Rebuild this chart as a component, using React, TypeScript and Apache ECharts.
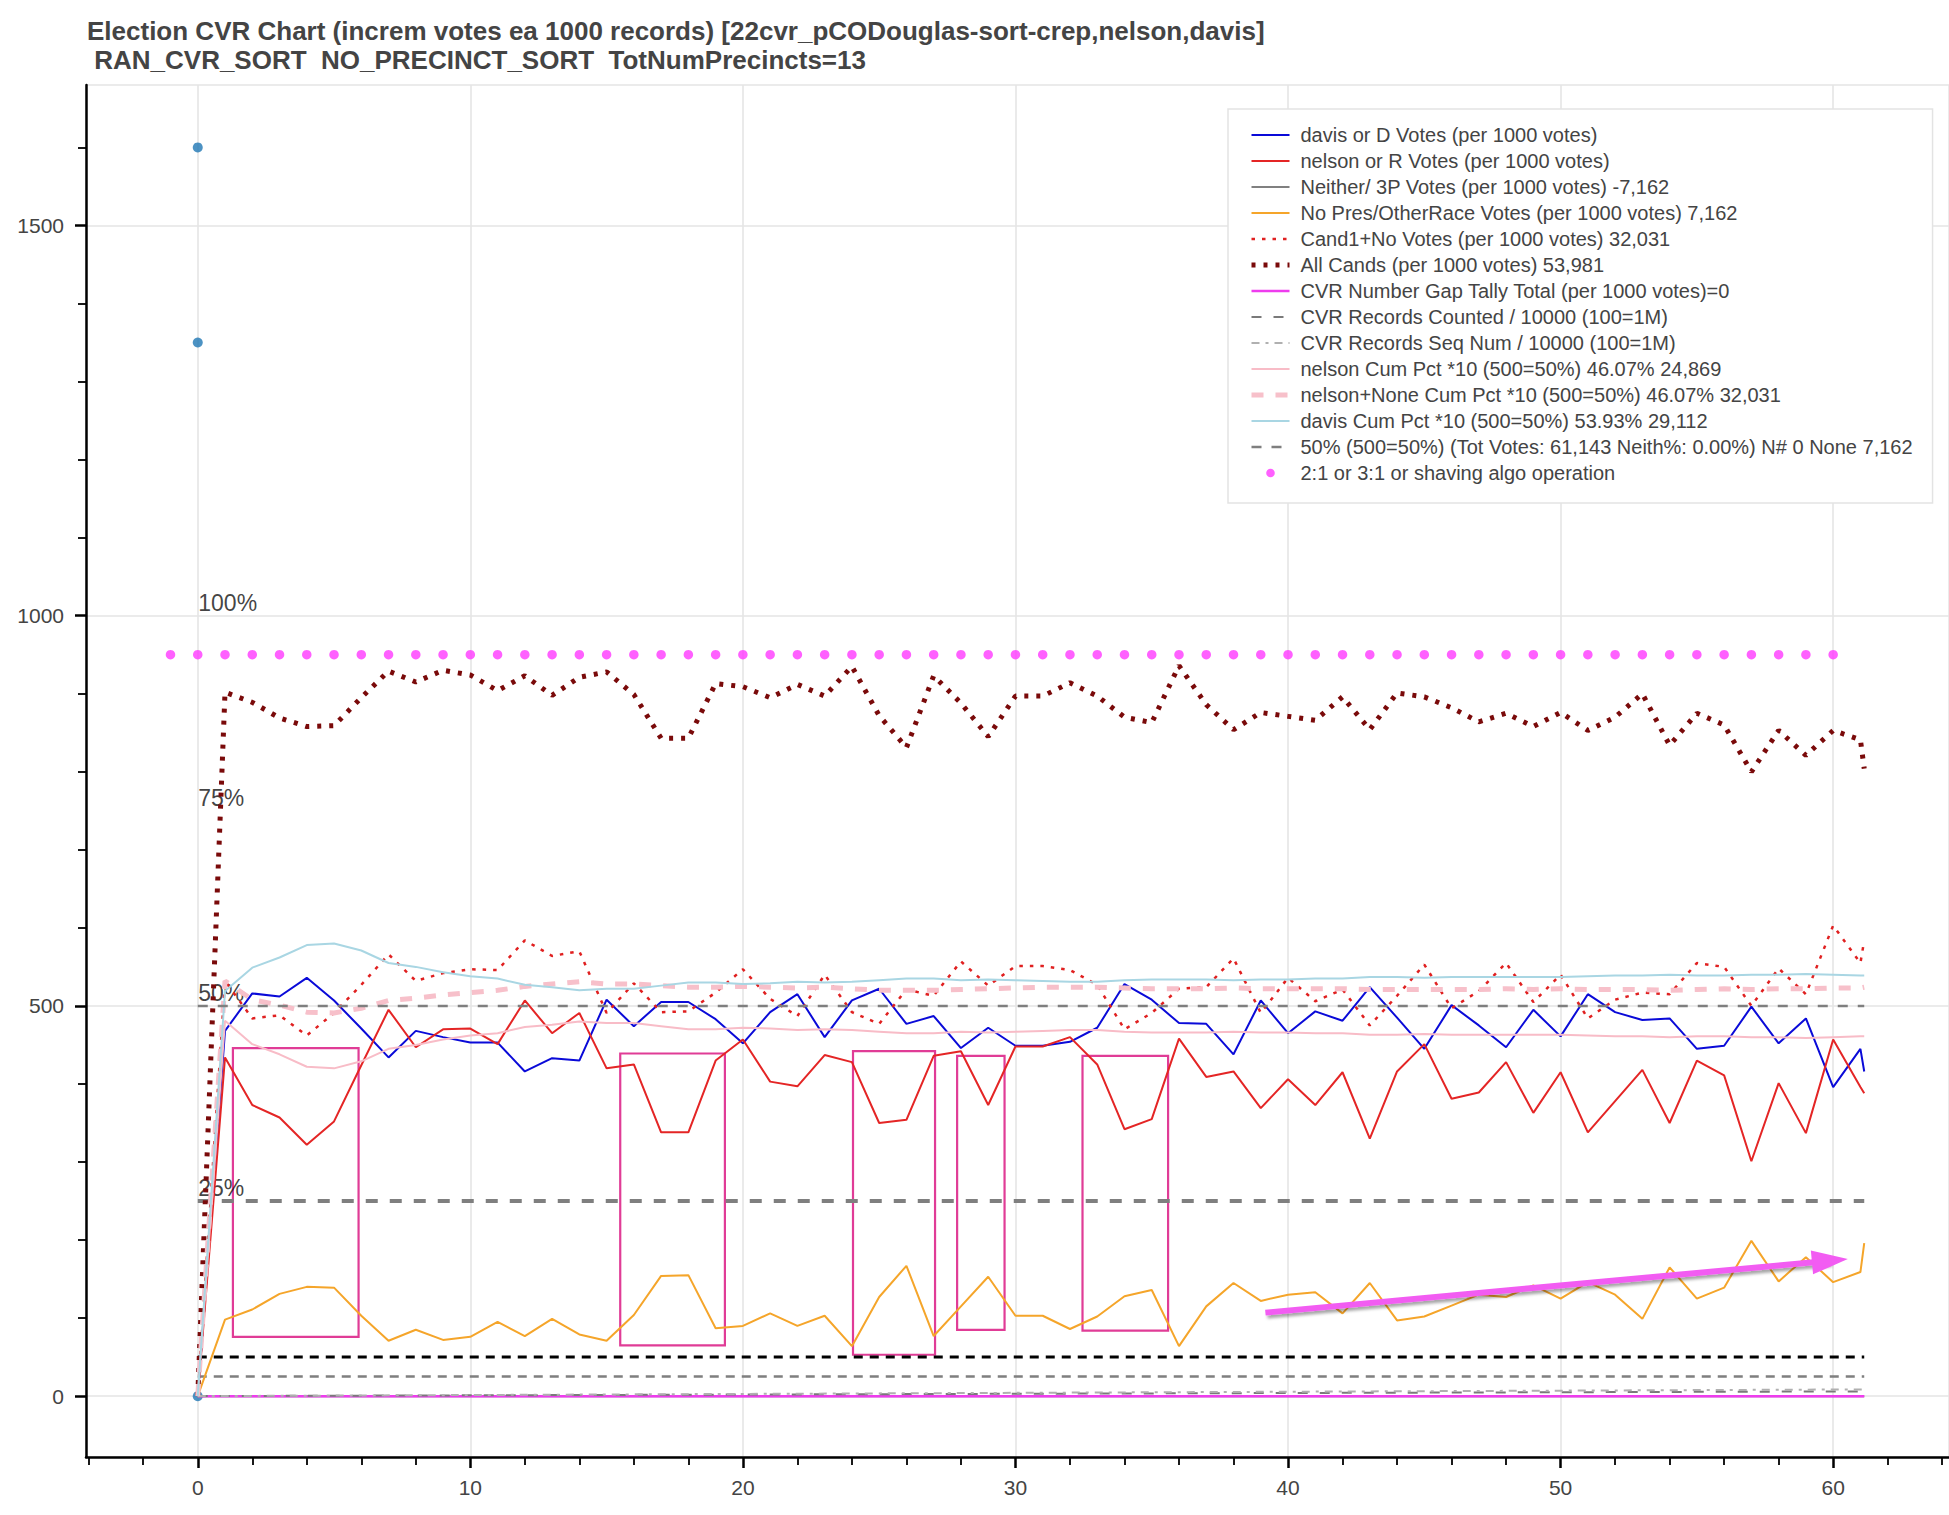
import React, { useEffect, useRef } from 'react';
import * as echarts from 'echarts';

const FONT = "'Liberation Sans', Arial, Helvetica, sans-serif";

// Batch index: each step is 1000 CVR records, the last one is the partial batch (143 records)
const batchX = [0, 1, 2, 3, 4, 5, 6, 7, 8, 9, 10, 11, 12, 13, 14, 15, 16, 17, 18, 19, 20, 21, 22, 23, 24, 25, 26, 27, 28, 29, 30, 31, 32, 33, 34, 35, 36, 37, 38, 39, 40, 41, 42, 43, 44, 45, 46, 47, 48, 49, 50, 51, 52, 53, 54, 55, 56, 57, 58, 59, 60, 61, 61.14];

const davisVotes = [0, 468, 516, 512, 536, 507, 471, 434, 468, 460, 453, 453, 416, 433, 430, 508, 474, 505, 505, 483, 452, 492, 515, 460, 507, 522, 477, 487, 446, 472, 449, 449, 454, 472, 528, 508, 478, 477, 438, 507, 465, 493, 481, 524, 485, 445, 501, 475, 447, 495, 461, 515, 492, 482, 484, 445, 449, 499, 452, 484, 396, 445, 416];
const nelsonVotes = [0, 434, 373, 357, 322, 352, 424, 495, 447, 470, 471, 451, 507, 465, 491, 420, 425, 338, 338, 430, 457, 403, 397, 437, 428, 350, 354, 436, 442, 373, 448, 448, 460, 425, 342, 355, 458, 409, 416, 369, 406, 373, 415, 330, 416, 451, 381, 389, 428, 363, 415, 338, 378, 418, 350, 430, 411, 301, 401, 337, 457, 396, 388];
const noPresVotes = [0, 98, 111, 131, 140, 139, 103, 71, 85, 72, 76, 95, 77, 99, 79, 71, 104, 154, 155, 87, 90, 106, 90, 103, 64, 127, 167, 77, 115, 153, 103, 103, 86, 102, 128, 136, 64, 115, 145, 122, 130, 133, 106, 145, 97, 102, 116, 130, 127, 142, 125, 146, 130, 99, 165, 125, 139, 199, 147, 178, 146, 159, 196];
const cand1NoVotes = [0, 532, 484, 488, 462, 491, 527, 566, 532, 542, 547, 546, 584, 564, 570, 491, 529, 492, 493, 517, 547, 509, 487, 540, 492, 477, 521, 513, 557, 526, 551, 551, 546, 527, 470, 491, 522, 524, 561, 491, 536, 506, 521, 475, 513, 553, 497, 519, 555, 505, 540, 484, 508, 517, 515, 555, 550, 500, 548, 515, 603, 555, 584];
const allCandsVotes = [0, 902, 889, 869, 858, 859, 895, 929, 915, 930, 924, 904, 923, 898, 921, 928, 899, 843, 843, 913, 909, 895, 912, 897, 935, 872, 831, 923, 888, 845, 897, 897, 914, 897, 870, 863, 936, 886, 854, 876, 871, 866, 896, 854, 901, 896, 882, 864, 875, 858, 876, 853, 870, 900, 834, 875, 860, 800, 853, 821, 853, 841, 804];
const nelsonCumPct = [0, 481, 451, 438, 422, 420, 429, 445, 450, 457, 462, 465, 473, 476, 480, 478, 478, 474, 470, 470, 472, 471, 469, 470, 469, 467, 465, 465, 467, 466, 467, 468, 469, 469, 467, 466, 466, 466, 467, 466, 466, 465, 465, 463, 463, 464, 463, 463, 463, 463, 463, 462, 461, 461, 460, 461, 461, 460, 460, 459, 460, 461, 461];
const nelsonNoneCumPct = [0, 532, 508, 501, 492, 491, 497, 507, 510, 514, 517, 520, 525, 528, 531, 528, 528, 526, 524, 524, 525, 524, 523, 524, 522, 520, 520, 520, 521, 522, 523, 524, 524, 524, 523, 522, 522, 522, 523, 522, 522, 522, 522, 521, 521, 521, 521, 521, 522, 521, 522, 521, 521, 521, 520, 521, 522, 521, 522, 522, 523, 523, 524];
const davisCumPct = [0, 519, 549, 562, 578, 580, 571, 555, 550, 543, 538, 535, 527, 524, 520, 522, 522, 526, 530, 530, 528, 529, 531, 530, 531, 533, 535, 535, 533, 534, 533, 532, 531, 531, 533, 534, 534, 534, 533, 534, 534, 535, 535, 537, 537, 536, 537, 537, 537, 537, 537, 538, 539, 539, 540, 539, 539, 540, 540, 541, 540, 539, 539];

// Straight lines drawn from their two end points
const spanX = [0, 61.14];
const zeroLevel = [0, 0];
const recordsCounted = [0, 6.1];
const recordsSeqNum = [0, 8.6];
const fiftyPctLevel = [500, 500];
const quarterLevel = [250, 250];
const blackLevel = [50, 50];
const grayLevel = [25, 25];

// "2:1 or 3:1 or shaving algo operation" markers
const algoX = [-1, 0, 1, 2, 3, 4, 5, 6, 7, 8, 9, 10, 11, 12, 13, 14, 15, 16, 17, 18, 19, 20, 21, 22, 23, 24, 25, 26, 27, 28, 29, 30, 31, 32, 33, 34, 35, 36, 37, 38, 39, 40, 41, 42, 43, 44, 45, 46, 47, 48, 49, 50, 51, 52, 53, 54, 55, 56, 57, 58, 59, 60];
const algoY = 950;

// Blue markers at x = 0
const startDotsY = [1600, 1350, 0];

// Percentage labels
const pctLevels = [1000, 750, 500, 250];
const pctTexts = ['100%', '75%', '50%', '25%'];

// Hand-drawn annotation boxes [x1, y1, x2, y2] and arrow
const annotBoxes = [
  [1.29, 446, 5.9, 76],
  [15.5, 439, 19.34, 65],
  [24.04, 442, 27.05, 53],
  [27.86, 436, 29.6, 85],
  [32.46, 436, 35.6, 84],
];
const arrowFrom = [39.17, 107];
const arrowTo = [59.88, 173.5];

// Axis ticks
const xMajorTicks = [0, 10, 20, 30, 40, 50, 60];
const xMinorTicks = [-4, -2, 2, 4, 6, 8, 12, 14, 16, 18, 22, 24, 26, 28, 32, 34, 36, 38, 42, 44, 46, 48, 52, 54, 56, 58, 62, 64];
const yMajorTicks = [0, 500, 1000, 1500];
const yMinorTicks = [100, 200, 300, 400, 600, 700, 800, 900, 1100, 1200, 1300, 1400, 1600];

const TITLE =
  'Election CVR Chart (increm votes ea 1000 records) [22cvr_pCODouglas-sort-crep,nelson,davis]\n' +
  ' RAN_CVR_SORT  NO_PRECINCT_SORT  TotNumPrecincts=13';

const DOTS_NAME = '2:1 or 3:1 or shaving algo operation';
const DOT_COLOR = '#ff38ff';

interface LineDef {
  name: string;
  x: number[];
  y: number[];
  color: string;
  width: number;
  dash?: number[];
  inLegend: boolean;
}

const lineDefs: LineDef[] = [
  { name: 'davis or D Votes (per 1000 votes)', x: batchX, y: davisVotes, color: '#0a0ad8', width: 2, inLegend: true },
  { name: 'nelson or R Votes (per 1000 votes)', x: batchX, y: nelsonVotes, color: '#e42525', width: 2, inLegend: true },
  { name: 'Neither/ 3P Votes (per 1000 votes) -7,162', x: spanX, y: zeroLevel, color: '#808080', width: 2, inLegend: true },
  { name: 'No Pres/OtherRace Votes (per 1000 votes) 7,162', x: batchX, y: noPresVotes, color: '#f5a52a', width: 2, inLegend: true },
  { name: 'Cand1+No Votes (per 1000 votes) 32,031', x: batchX, y: cand1NoVotes, color: '#e02020', width: 2.5, dash: [3.5, 7], inLegend: true },
  { name: 'All Cands (per 1000 votes) 53,981', x: batchX, y: allCandsVotes, color: '#7a0a0a', width: 5, dash: [4, 8], inLegend: true },
  { name: 'CVR Number Gap Tally Total (per 1000 votes)=0', x: spanX, y: zeroLevel, color: '#ee3cee', width: 2.5, inLegend: true },
  { name: 'CVR Records Counted / 10000 (100=1M)', x: spanX, y: recordsCounted, color: '#7a7a7a', width: 2, dash: [10, 12], inLegend: true },
  { name: 'CVR Records Seq Num / 10000 (100=1M)', x: spanX, y: recordsSeqNum, color: '#b0b0b0', width: 2, dash: [8, 6, 3, 6], inLegend: true },
  { name: 'nelson Cum Pct *10 (500=50%) 46.07% 24,869', x: batchX, y: nelsonCumPct, color: '#f8bcc7', width: 2, inLegend: true },
  { name: 'nelson+None Cum Pct *10 (500=50%) 46.07% 32,031', x: batchX, y: nelsonNoneCumPct, color: '#f7c0ca', width: 5, dash: [12, 12], inLegend: true },
  { name: 'davis Cum Pct *10 (500=50%) 53.93% 29,112', x: batchX, y: davisCumPct, color: '#a9d6e3', width: 2, inLegend: true },
  { name: '50% (500=50%) (Tot Votes: 61,143 Neith%: 0.00%) N# 0 None 7,162', x: spanX, y: fiftyPctLevel, color: '#7f7f7f', width: 2.5, dash: [10, 10], inLegend: true },
  { name: 'ref250', x: spanX, y: quarterLevel, color: '#7f7f7f', width: 4, dash: [12, 12], inLegend: false },
  { name: 'ref50', x: spanX, y: blackLevel, color: '#000000', width: 3, dash: [9, 7], inLegend: false },
  { name: 'ref25', x: spanX, y: grayLevel, color: '#7f7f7f', width: 2.5, dash: [9, 7], inLegend: false },
];

const App: React.FC = () => {
  const chartRef = useRef<HTMLDivElement>(null);

  useEffect(() => {
    document.body.style.margin = '0';
    if (!chartRef.current) return;
    const chart = echarts.init(chartRef.current, undefined, { renderer: 'svg' });

    // draw order: reference lines underneath, then the vote lines
    const drawOrder = [...lineDefs.filter(d => !d.inLegend), ...lineDefs.filter(d => d.inLegend)];

    const lineSeries = drawOrder.map(d => ({
      name: d.name,
      type: 'line',
      data: d.x.map((x, i) => [x, d.y[i]]),
      showSymbol: false,
      symbol: 'none',
      silent: true,
      lineStyle: { color: d.color, width: d.width, type: d.dash ? d.dash : 'solid' },
      itemStyle: { color: d.color },
      emphasis: { disabled: true },
    }));

    // legend glyph = the line only (hide the symbol ECharts puts in the middle)
    const legendData: any[] = lineDefs
      .filter(d => d.inLegend)
      .map(d => ({
        name: d.name,
        lineStyle: { color: d.color, width: d.width, type: d.dash ? d.dash : 'solid' },
        itemStyle: { color: 'rgba(0,0,0,0)', borderColor: 'rgba(0,0,0,0)', borderWidth: 0, opacity: 0 },
      }));
    legendData.push({
      name: DOTS_NAME,
      icon: 'path://M0,0L38,0L0,0Z M0,20L38,20L0,20Z M14.7,10A4.3,4.3,0,1,0,23.3,10A4.3,4.3,0,1,0,14.7,10Z',
      itemStyle: { color: DOT_COLOR },
    });

    const option: any = {
      animation: false,
      backgroundColor: '#ffffff',
      textStyle: { fontFamily: FONT },
      title: {
        text: TITLE,
        left: 87,
        top: 16,
        padding: 0,
        textStyle: { fontFamily: FONT, fontSize: 26, fontWeight: 'bold', color: '#444444', lineHeight: 29 },
      },
      legend: {
        data: legendData,
        orient: 'vertical',
        left: 1228,
        top: 109,
        padding: [16, 20, 20, 21],
        itemWidth: 38,
        itemHeight: 20,
        itemGap: 6,
        backgroundColor: '#ffffff',
        borderColor: '#e3e3e3',
        borderWidth: 1.5,
        selectedMode: false,
        textStyle: { fontFamily: FONT, fontSize: 20, color: '#444444', padding: [0, 0, 0, 6] },
      },
      grid: {
        left: 86,
        right: 0,
        top: 85,
        bottom: 58,
        show: true,
        borderColor: '#e5e5e5',
        borderWidth: 1.5,
        backgroundColor: 'transparent',
      },
      xAxis: [
        {
          type: 'value',
          min: -4.1,
          max: 64.25,
          position: 'bottom',
          axisLine: { show: true, onZero: false, lineStyle: { color: '#000', width: 2.5 } },
          axisTick: { show: true, customValues: xMajorTicks, length: 11, lineStyle: { color: '#000', width: 2.5 } },
          axisLabel: { customValues: xMajorTicks, fontSize: 21, color: '#444444', fontFamily: FONT, margin: 20, formatter: (v: number) => String(v) },
          splitLine: { show: true, lineStyle: { color: '#e5e5e5', width: 1.6 } },
        },
        {
          type: 'value',
          min: -4.1,
          max: 64.25,
          position: 'bottom',
          axisLine: { show: false, onZero: false },
          axisTick: { show: true, customValues: xMinorTicks, length: 8, lineStyle: { color: '#000', width: 1.8 } },
          axisLabel: { show: false },
          splitLine: { show: false },
        },
      ],
      yAxis: [
        {
          type: 'value',
          min: -78,
          max: 1680,
          position: 'left',
          axisLine: { show: true, onZero: false, lineStyle: { color: '#000', width: 2.5 } },
          axisTick: { show: true, customValues: yMajorTicks, length: 11, lineStyle: { color: '#000', width: 2.5 } },
          axisLabel: { customValues: yMajorTicks, fontSize: 21, color: '#444444', fontFamily: FONT, margin: 22, formatter: (v: number) => String(v) },
          splitLine: { show: true, lineStyle: { color: '#e5e5e5', width: 1.6 } },
        },
        {
          type: 'value',
          min: -78,
          max: 1680,
          position: 'left',
          axisLine: { show: false, onZero: false },
          axisTick: { show: true, customValues: yMinorTicks, length: 8, lineStyle: { color: '#000', width: 1.8 } },
          axisLabel: { show: false },
          splitLine: { show: false },
        },
      ],
      series: [
        ...lineSeries,
        {
          name: 'annotations',
          type: 'line',
          data: [],
          silent: true,
          markArea: {
            silent: true,
            label: { show: false },
            itemStyle: { color: 'rgba(0,0,0,0)', borderColor: '#e03c96', borderWidth: 2.2 },
            data: annotBoxes.map(b => [{ coord: [b[0], b[1]] }, { coord: [b[2], b[3]] }]),
          },
          markLine: {
            silent: true,
            symbol: ['none', 'triangle'],
            label: { show: false },
            lineStyle: {
              color: '#f25cf2',
              width: 6,
              type: 'solid',
              shadowColor: 'rgba(0,0,0,0.35)',
              shadowBlur: 3,
              shadowOffsetX: 2,
              shadowOffsetY: 3,
            },
            data: [[
              { coord: arrowFrom, symbol: 'none' },
              { coord: arrowTo, symbol: 'triangle', symbolSize: [24, 36] },
            ]],
          },
        },
        {
          name: 'pctLabels',
          type: 'scatter',
          data: pctLevels.map(v => [0, v]),
          symbolSize: 1,
          silent: true,
          itemStyle: { color: 'rgba(0,0,0,0)' },
          label: {
            show: true,
            position: [1, -1],
            align: 'left',
            verticalAlign: 'bottom',
            fontSize: 23,
            fontFamily: FONT,
            color: '#111111',
            formatter: (p: any) => pctTexts[p.dataIndex],
          },
        },
        {
          name: 'startDots',
          type: 'scatter',
          data: startDotsY.map(v => [0, v]),
          symbol: 'circle',
          symbolSize: 10,
          silent: true,
          itemStyle: { color: '#1f77b4' },
        },
        {
          name: DOTS_NAME,
          type: 'scatter',
          data: algoX.map(x => [x, algoY]),
          symbol: 'circle',
          symbolSize: 9.5,
          silent: true,
          itemStyle: { color: DOT_COLOR },
        },
      ],
    };

    chart.setOption(option);

    return () => {
      chart.dispose();
    };
  }, []);

  return <div ref={chartRef} style={{ width: 1949, height: 1515 }} />;
};

export default App;
